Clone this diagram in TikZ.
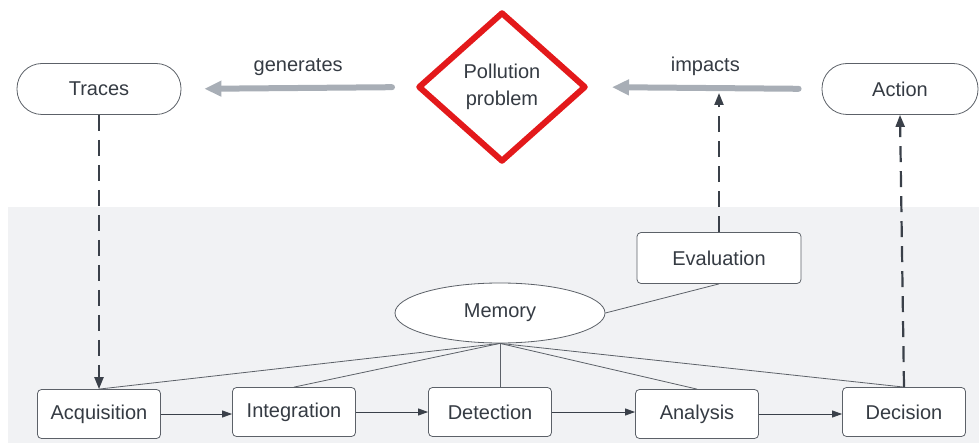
\documentclass[tikz,border=0pt]{standalone}
\usepackage{fontspec}
\setmainfont{Liberation Sans}
\usetikzlibrary{arrows.meta,shapes.geometric}
\definecolor{txt}{HTML}{353B43}
\definecolor{bord}{HTML}{5C6168}
\definecolor{bgg}{HTML}{F1F2F4}
\definecolor{redd}{HTML}{E3191B}
\definecolor{grayarr}{HTML}{A8AEB6}
\definecolor{dark}{HTML}{3A4049}
\tikzset{
  every node/.style={text=txt,font=\fontsize{20}{24}\selectfont},
  stadium/.style={draw=bord,line width=0.8pt,fill=white,rounded corners=25pt,minimum width=164pt,minimum height=51pt,inner sep=0pt},
  procbox/.style={draw=bord,line width=0.8pt,fill=white,rounded corners=4pt,minimum width=123pt,minimum height=49pt,inner sep=0pt},
  bigarrow/.style={draw=grayarr,line width=6pt,line cap=round,-{Triangle[length=17pt,width=15pt]},shorten <=23pt,shorten >=23pt},
  dasharrow/.style={draw=dark,line width=2.2pt,dash pattern=on 16pt off 9pt,-{Triangle[length=12pt,width=9pt]}},
  flowarrow/.style={draw=dark,line width=0.8pt,-{Triangle[length=10pt,width=7pt]}},
  memline/.style={draw=bord,line width=0.8pt},
  lbl/.style={font=\fontsize{20}{24}\selectfont,text=txt}
}
\begin{document}
\begin{tikzpicture}[x=1pt,y=-1pt]
\useasboundingbox (0,0) rectangle (979,443);
\fill[bgg] (8,207) rectangle (979,443);

\node[stadium] (traces) at (99,89) {Traces};
\node[stadium,minimum width=156pt] (action) at (900,89) {Action};
\node[diamond,draw=redd,line width=6pt,line join=round,minimum width=168pt,minimum height=150pt,inner sep=0pt,fill=white,align=center,font=\fontsize{20}{27}\selectfont] (poll) at (502,87) {Pollution\\problem};

\draw[bigarrow] (poll.west) -- (traces.east) node[lbl,midway,above=6pt] {generates};
\draw[bigarrow] (action.west) -- (poll.east) node[lbl,midway,above=6pt] {impacts};

\node[procbox] (acq) at (99,414) {Acquisition};
\node[procbox] (integ) at (294,412) {Integration};
\node[procbox] (det) at (490,412) {Detection};
\node[procbox] (ana) at (697,414) {Analysis};
\node[procbox] (dec) at (904,412) {Decision};
\node[procbox,minimum width=164pt,minimum height=51pt] (eval) at (719,258) {Evaluation};
\node[ellipse,draw=bord,line width=0.8pt,fill=white,minimum width=210pt,minimum height=60pt,inner sep=0pt] (mem) at (500,313) {Memory};

\coordinate (imp) at (719,93);

\draw[memline] (mem.south) -- (acq.north);
\draw[memline] (mem.south) -- (integ.north);
\draw[memline] (mem.south) -- (mem.south |- det.north);
\draw[memline] (mem.south) -- (ana.north);
\draw[memline] (mem.south) -- (dec.north);
\draw[memline] (mem.east) -- (eval.south);

\draw[flowarrow] (acq.east) -- (acq.east -| integ.west);
\draw[flowarrow] (integ.east) -- (det.west);
\draw[flowarrow] (det.east) -- (det.east -| ana.west);
\draw[flowarrow] (ana.east) -- (ana.east -| dec.west);

\draw[dasharrow] (traces.south) -- (acq.north);
\draw[dasharrow] (eval.north) -- (imp);
\draw[dasharrow] (dec.north) -- (action.south);
\end{tikzpicture}
\end{document}
